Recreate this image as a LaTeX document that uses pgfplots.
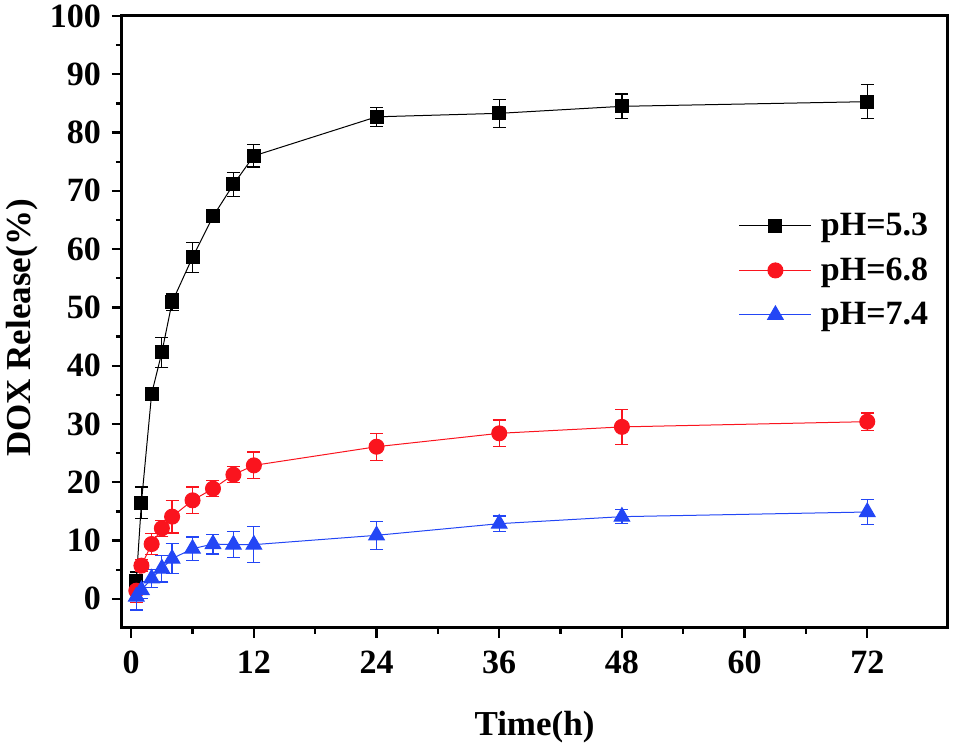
\documentclass[border=0pt]{standalone}
\usepackage{fontspec}
\setmainfont{Liberation Serif}
\usepackage{pgfplots}
\pgfplotsset{compat=1.18}
\definecolor{myred}{RGB}{250,20,30}
\definecolor{myblue}{RGB}{35,70,245}
\begin{document}
\begin{tikzpicture}
\begin{axis}[
  scale only axis,
  width=412.5pt, height=306pt,
  xmin=-0.9, xmax=79.8,
  ymin=-5, ymax=100,
  xtick={0,12,24,36,48,60,72},
  ytick={0,10,20,30,40,50,60,70,80,90,100},
  minor x tick num=1, minor y tick num=1,
  xtick pos=bottom, ytick pos=left,
  tick align=outside,
  major tick length=5pt, minor tick length=3pt,
  every tick/.style={line width=1.2pt, black},
  axis line style={line width=1.5pt},
  /pgf/number format/assume math mode=true,
  ticklabel style={font=\fontsize{17}{20}\selectfont\bfseries},
  xticklabel style={yshift=-3pt},
  yticklabel style={xshift=-2pt},
  xlabel={Time(h)}, ylabel={DOX Release(\%)},
  label style={font=\fontsize{17.5}{21}\selectfont\bfseries},
  xlabel style={at={(axis description cs:0.5,-0.162)}, anchor=center},
  ylabel style={at={(axis description cs:-0.121,0.49)}, anchor=center},
  legend style={at={(0.74,0.69)}, anchor=north west, draw=none, fill=none,
    font=\fontsize{17}{20}\selectfont\bfseries, row sep=6.5pt,
    nodes={inner xsep=4.5pt, inner ysep=1.5pt}},
  legend cell align=left,
  legend image code/.code={\draw[mark repeat=2,mark phase=2] plot coordinates {(0pt,0pt) (18pt,0pt) (36pt,0pt)};},
  error bars/error bar style={line width=0.6pt},
  error bars/error mark options={rotate=90, mark size=3.25pt, line width=0.6pt},
]
\addplot[black, line width=0.5pt, mark=square*, mark size=3.25pt,
  error bars/.cd, y dir=both, y explicit]
  table[x=t, y=v, y error=e] {
t v e
0.5 3.1 1.5
1 16.5 2.7
2 35.2 0.8
3 42.3 2.6
4 50.9 1.4
6 58.6 2.6
8 65.6 1.0
10 71.1 2.1
12 76.0 1.9
24 82.7 1.6
36 83.3 2.4
48 84.5 2.1
72 85.3 2.9
};
\addlegendentry{pH=5.3}
\addplot[myred, line width=0.5pt, mark=*, mark size=3.75pt,
  error bars/.cd, y dir=both, y explicit]
  table[x=t, y=v, y error=e] {
t v e
0.5 1.4 2.0
1 5.7 1.0
2 9.4 1.8
3 12.1 1.4
4 14.1 2.8
6 16.9 2.3
8 18.9 1.4
10 21.3 1.4
12 22.9 2.3
24 26.1 2.3
36 28.4 2.3
48 29.5 3.0
72 30.4 1.5
};
\addlegendentry{pH=6.8}
\addplot[myblue, line width=0.5pt, mark=triangle*, mark size=4.5pt,
  error bars/.cd, y dir=both, y explicit]
  table[x=t, y=v, y error=e] {
t v e
0.5 0.4 2.3
1 1.5 1.5
2 3.5 1.5
3 5.2 2.3
4 6.9 2.6
6 8.6 2.0
8 9.4 1.7
10 9.3 2.2
12 9.3 3.1
24 10.9 2.4
36 12.9 1.3
48 14.1 1.2
72 14.9 2.1
};
\addlegendentry{pH=7.4}
\end{axis}
\pgfresetboundingbox
\path ([shift={(-61pt,-62pt)}]current axis.south west) rectangle ([shift={(3pt,8pt)}]current axis.north east);
\end{tikzpicture}
\end{document}
